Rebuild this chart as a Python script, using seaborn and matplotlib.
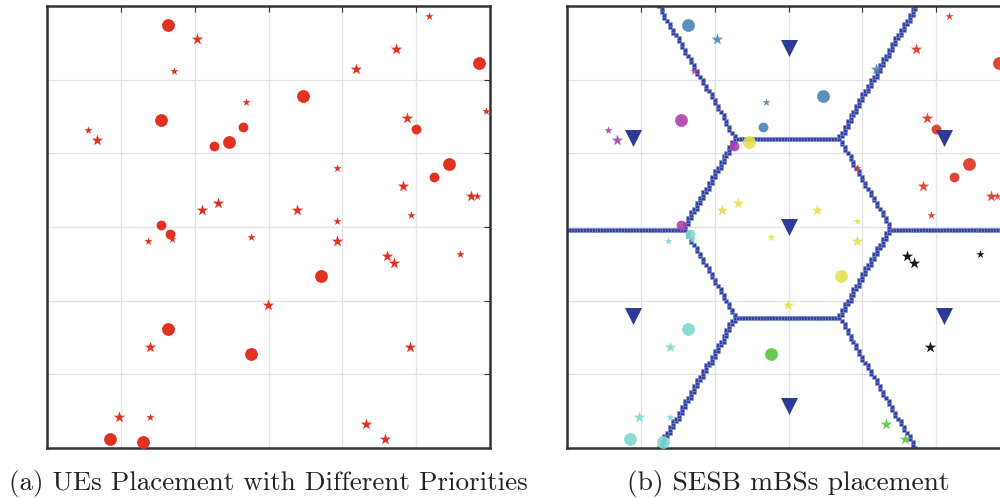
import numpy as np
import pandas as pd
import matplotlib
matplotlib.use("Agg")
import matplotlib.pyplot as plt
import seaborn as sns

# ---------------- data ----------------
ue_x = [163.5, 202.8, 517.4, 473.1, 585.5, 172.4, 418.9, 347.1, 269.9, 154.4,
        487.2, 595.0, 55.9, 67.7, 265.0, 500.2, 226.2, 246.5, 392.8, 544.5,
        523.7, 482.2, 573.9, 582.8, 210.3, 232.0, 338.6, 493.4, 392.8, 154.4,
        166.2, 168.9, 136.4, 276.3, 392.8, 460.9, 470.4, 559.4, 371.5, 299.7,
        163.9, 139.5, 276.3, 491.2, 97.9, 139.5, 431.6, 457.8, 85.7, 130.0]
ue_y = [573.8, 555.6, 586.0, 541.6, 523.0, 511.4, 514.1, 477.8, 469.7, 445.3,
        448.0, 457.5, 431.3, 418.1, 436.2, 433.4, 410.0, 415.4, 380.1, 385.5,
        367.5, 355.7, 341.7, 341.7, 323.1, 332.2, 323.1, 316.7, 307.7, 302.3,
        290.5, 284.1, 281.4, 286.8, 281.4, 260.6, 251.5, 263.4, 233.1, 194.1,
        161.5, 137.1, 128.0, 137.1, 42.1, 42.1, 33.0, 12.2, 12.2, 8.6]
# priority class: 1 big circle, 2 medium circle, 3 big star, 4 small star
ue_prio = [1, 3, 4, 3, 1, 4, 3, 1, 4, 1,
           3, 4, 4, 3, 2, 2, 2, 1, 4, 1,
           2, 3, 3, 4, 3, 3, 3, 4, 4, 2,
           2, 4, 4, 4, 3, 3, 3, 4, 1, 3,
           1, 3, 1, 3, 3, 4, 3, 3, 1, 1]
# serving cell: 0 centre, 1 top, 2 upper-left, 3 upper-right, 4 lower-left, 5 lower-right, 6 bottom
ue_cell = [1, 1, 3, 3, 3, 2, 1, 1, 1, 2,
           3, 3, 2, 2, 1, 3, 2, 0, 3, 3,
           3, 3, 3, 3, 0, 0, 0, 3, 0, 2,
           4, 4, 4, 0, 0, 5, 5, 5, 0, 0,
           4, 4, 6, 5, 4, 4, 6, 6, 4, 4]

bs_x = [300, 300, 90, 510, 90, 510, 300]
bs_y = [300, 542.5, 421, 421, 179, 179, 57.5]

cell_colors = ["#e6df52", "#4a84b8", "#b23fae", "#e2321f", "#7fd9d2", "#000000", "#5cc242"]
ue_red = "#e2321f"
bs_color = "#2c3b98"
boundary_color = "#3342a6"

prio_marker = {1: "o", 2: "o", 3: "*", 4: "*"}
prio_size = {1: 85, 2: 50, 3: 75, 4: 38}

ues = pd.DataFrame({"x": ue_x, "y": ue_y, "prio": ue_prio, "cell": ue_cell})

# boundary of serving areas computed from BS positions on a fine grid
step = 4.0
gx = np.arange(0, 600 + step, step)
gy = np.arange(0, 600 + step, step)
GX, GY = np.meshgrid(gx, gy)
d = np.stack([(GX - bx) ** 2 + (GY - by) ** 2 for bx, by in zip(bs_x, bs_y)])
lab = np.argmin(d, axis=0)
edge = np.zeros_like(lab, dtype=bool)
edge[:, :-1] |= lab[:, :-1] != lab[:, 1:]
edge[:-1, :] |= lab[:-1, :] != lab[1:, :]
bnd = pd.DataFrame({"x": GX[edge], "y": GY[edge]})

# ---------------- figure ----------------
sns.set_style("white")
plt.rcParams["font.family"] = ["cmr10", "DejaVu Serif"]

W, H = 1000, 498
fig = plt.figure(figsize=(W / 100, H / 100), dpi=100)
axL = fig.add_axes([47 / W, (H - 448) / H, 443 / W, 442 / H])
axR = fig.add_axes([567 / W, (H - 448) / H, 443 / W, 442 / H])


def style(ax):
    ax.set_xlim(0, 600)
    ax.set_ylim(0, 600)
    ticks = [100, 200, 300, 400, 500]
    ax.set_xticks(ticks)
    ax.set_yticks(ticks)
    ax.grid(True, color="#e3e3e3", linewidth=0.9)
    ax.set_axisbelow(True)
    ax.tick_params(direction="in", length=4, width=0.8, color="#333333",
                   top=True, right=True, labelleft=False, labelbottom=False)
    for sp in ax.spines.values():
        sp.set_color("#333333")
        sp.set_linewidth(1.8)
    ax.set_xlabel("")
    ax.set_ylabel("")


# left panel: all UEs red
for p in [1, 2, 3, 4]:
    sub = ues[ues.prio == p]
    sns.scatterplot(data=sub, x="x", y="y", ax=axL, marker=prio_marker[p],
                    s=prio_size[p], color=ue_red, linewidth=0, zorder=3)
style(axL)

# right panel: boundaries, BSs, UEs coloured by cell
sns.scatterplot(data=bnd, x="x", y="y", ax=axR, marker="s", s=11,
                color=boundary_color, edgecolor="#8f99d0", linewidth=0.4,
                zorder=2)
for c in range(len(cell_colors)):
    for p in [1, 2, 3, 4]:
        sub = ues[(ues.prio == p) & (ues.cell == c)]
        if len(sub) == 0:
            continue
        sns.scatterplot(data=sub, x="x", y="y", ax=axR, marker=prio_marker[p],
                        s=prio_size[p], color=cell_colors[c], linewidth=0,
                        alpha=0.9, zorder=3)
sns.scatterplot(x=bs_x, y=bs_y, ax=axR, marker="v", s=150, color=bs_color,
                linewidth=0, zorder=4)
style(axR)

fig.text(268.5 / W, 1 - 490 / H, "(a) UEs Placement with Different Priorities",
         ha="center", va="baseline", fontsize=19.5, color="#222222")
fig.text(788 / W, 1 - 490 / H, "(b) SESB mBSs placement",
         ha="center", va="baseline", fontsize=19.8, color="#222222")

fig.savefig("out.png", dpi=100)
